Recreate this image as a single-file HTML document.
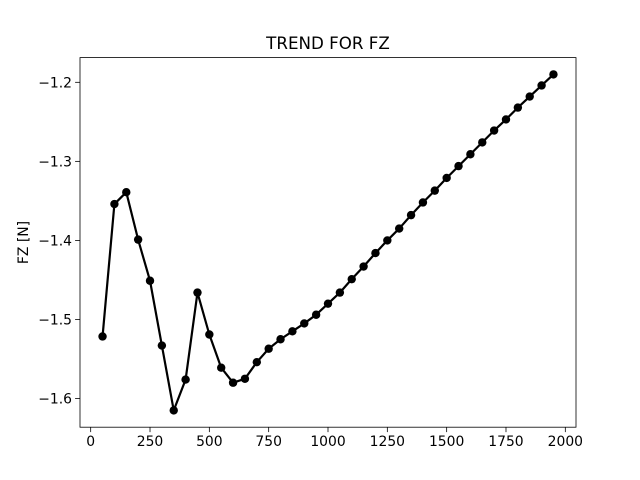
<!DOCTYPE html>
<html><head><meta charset="utf-8"><style>
html,body{margin:0;padding:0;background:#fff;}
svg{display:block;font-family:"DejaVu Sans","Liberation Sans",sans-serif;}
</style></head><body>
<svg id="chart" width="640" height="480" viewBox="0 0 640 480" xmlns="http://www.w3.org/2000/svg">
<rect width="640" height="480" fill="#fff"/>
<text x="328" y="49" font-size="16.7" text-anchor="middle">TREND FOR FZ</text>
<text transform="translate(28,242.5) rotate(-90)" font-size="13.9" text-anchor="middle">FZ [N]</text>
<g id="plot"></g>
</svg>
<script>
const xValues = [50,100,150,200,250,300,350,400,450,500,550,600,650,700,750,800,850,900,950,1000,1050,1100,1150,1200,1250,1300,1350,1400,1450,1500,1550,1600,1650,1700,1750,1800,1850,1900,1950];
const fzValues = [-1.5215,-1.354,-1.339,-1.399,-1.451,-1.533,-1.615,-1.576,-1.466,-1.519,-1.561,-1.580,-1.575,-1.554,-1.537,-1.525,-1.515,-1.505,-1.494,-1.480,-1.466,-1.449,-1.433,-1.416,-1.400,-1.385,-1.368,-1.352,-1.337,-1.321,-1.306,-1.291,-1.276,-1.261,-1.247,-1.232,-1.218,-1.204,-1.190];
const xTicks = [0,250,500,750,1000,1250,1500,1750,2000];
const yTicks = [-1.6,-1.5,-1.4,-1.3,-1.2];

const L=80,R=576,T=57.6,B=427.2;
const NS="http://www.w3.org/2000/svg";
const g=document.getElementById('plot');
let xmin=Math.min(...xValues),xmax=Math.max(...xValues);
let ymin=Math.min(...fzValues),ymax=Math.max(...fzValues);
const xm=(xmax-xmin)*0.05, ym=(ymax-ymin)*0.05;
xmin-=xm;xmax+=xm;ymin-=ym;ymax+=ym;
const sx=v=>L+(v-xmin)/(xmax-xmin)*(R-L);
const sy=v=>B-(v-ymin)/(ymax-ymin)*(B-T);
function mk(tag,attrs){const e=document.createElementNS(NS,tag);for(const k in attrs)e.setAttribute(k,attrs[k]);g.appendChild(e);return e;}

xTicks.forEach(t=>{
  const x=sx(t);
  const tk=mk('line',{x1:x,x2:x,y1:B,y2:B+4.9,stroke:'#000','stroke-width':0.8});
  
  
  const lb=mk('text',{x:x,y:B+19,'font-size':13.9,'text-anchor':'middle'});
  lb.textContent=String(t);
  
  
});
yTicks.forEach(t=>{
  const y=sy(t);
  const tk=mk('line',{x1:L-4.9,x2:L,y1:y,y2:y,stroke:'#000','stroke-width':0.8});
  
  
  const lb=mk('text',{x:L-8,y:y+5,'font-size':13.9,'text-anchor':'end'});
  lb.textContent=t.toFixed(1).replace('-','\u2212');
  
  
});
const pts=xValues.map((x,i)=>sx(x).toFixed(2)+','+sy(fzValues[i]).toFixed(2)).join(' ');
const line=mk('polyline',{points:pts,fill:'none',stroke:'#000','stroke-width':2.2,'stroke-linejoin':'round'});


xValues.forEach((x,i)=>{
  const c=mk('circle',{cx:sx(x),cy:sy(fzValues[i]),r:4.2,fill:'#000'});
  
  
});
const fr=mk('rect',{x:L,y:T,width:R-L,height:B-T,fill:'none',stroke:'#000','stroke-width':0.8});


</script>
</body></html>
